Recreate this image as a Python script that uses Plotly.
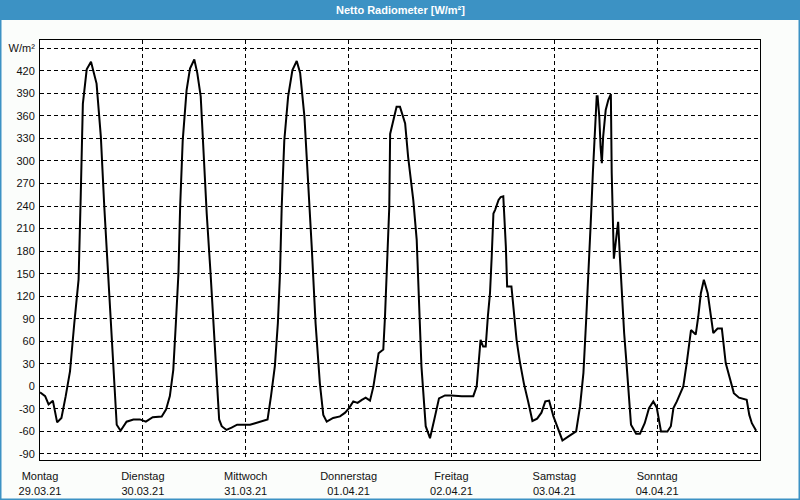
import plotly.graph_objects as go

# hours since Monday 29.03.21 00:00
hours = [0, 1.2, 2, 3, 4, 5, 6, 7, 8, 9, 9.5, 10, 10.9, 11.9, 13.2, 14.2, 15, 16, 16.9, 17.9, 18.8, 20.2, 21.8, 23.3,
         24.7, 26.3, 28.4, 29.4, 30.3, 31.1, 31.7, 32.3, 32.7, 33.3, 34.2, 35, 36, 36.7, 37.5, 38.1, 38.9, 39.8, 40.8,
         41.8, 42.4, 43.5, 44.7, 46, 47.4, 49,
         50.2, 51.7, 53.1, 53.9, 54.8, 55.5, 56, 56.4, 57, 57.9, 58.9, 59.9, 60.7, 61.7, 62.6, 63.4, 64.3, 65.3, 66.1,
         66.9, 68.4, 70, 71.2, 72.1,
         73.1, 74.1, 75.1, 76, 77, 77.8, 79, 80.1, 80.5, 80.9, 81.1, 81.5, 81.7, 82.4, 83.2, 84, 85.2, 85.9, 87.1, 87.9,
         88.4, 89, 90, 91, 92, 93.1, 94.5, 96,
         98.4, 101.1, 101.9, 102.4, 102.8, 103.4, 104, 104.5, 105, 105.4, 105.8, 106.2, 107, 107.5, 108.1, 108.7, 109,
         110, 111.2, 111.9, 112.9, 113.9, 114.9, 116, 117, 117.9, 118.8, 119.8,
         120.9, 121.9, 123.5, 125.1, 126, 126.8, 127.4, 128, 128.5, 129, 129.4, 129.7, 129.9, 130.1, 130.5, 130.8, 131.1,
         131.4, 132, 132.6, 133.2, 133.4, 133.6, 133.9, 134.4, 134.9, 135.3, 135.7, 136.3, 136.9, 137.5, 137.9, 139.1,
         140, 141.1, 142.1, 143.1, 143.9,
         144.9, 146.4, 147.2, 147.8, 148.6, 149.3, 150.1, 150.9, 151.9, 153, 153.6, 154.2, 154.9, 155.8, 156.3, 157.1,
         158.1, 159.1, 160, 161, 161.9, 163.1, 164.9, 165.5, 166.1, 167.1]
values = [-8, -13, -24, -19, -48, -42, -13, 20, 84, 142, 252, 376, 422, 432, 403, 332, 239, 142, 40, -51, -59, -47, -44, -44,
          -47, -41, -40, -31, -13, 22, 84, 150, 239, 327, 394, 423, 435, 417, 386, 314, 230, 150, 53,
          -44, -53, -58, -55, -51, -51, -51,
          -49, -46, -44, -13, 27, 84, 150, 239, 327, 386, 421, 433, 417, 359, 275, 186, 84, 4, -38,
          -47, -42, -40, -35, -29,
          -20, -22, -18, -15, -19, 0, 44, 49, 93, 150, 195, 239, 336, 354, 372, 372, 350, 305, 248, 195,
          106, 27, -53, -69, -44, -16, -12, -12,
          -13, -13, 0, 35, 62, 53, 53, 93, 124, 173, 230, 235, 248, 252, 253, 186, 133,
          133, 62, 35, 4, -20, -46, -43, -35, -20, -19, -40,
          -58, -72, -66, -60, -27, 18, 84, 150, 217, 284, 332, 359, 386, 386, 359, 319, 297,
          332, 368, 381, 389, 284, 217, 170, 195, 219, 173, 124, 71, 27, -18, -51, -63,
          -63, -49, -29, -20, -28,
          -60, -60, -53, -29, -20, -11, 0, 31, 75, 69, 93, 124, 142, 124, 102, 71,
          77, 77, 31, 11, -9, -15, -18, -38, -49, -59]

day_names = ["Montag", "Dienstag", "Mittwoch", "Donnerstag", "Freitag", "Samstag", "Sonntag"]
day_dates = ["29.03.21", "30.03.21", "31.03.21", "01.04.21", "02.04.21", "03.04.21", "04.04.21"]
day_hours = [0, 24, 48, 72, 96, 120, 144]
y_ticks = [-90, -60, -30, 0, 30, 60, 90, 120, 150, 180, 210, 240, 270, 300, 330, 360, 390, 420, 450]
y_labels = [str(v) for v in y_ticks[:-1]] + ["W/m²"]
title_text = "Netto Radiometer [W/m²]"

BLUE = "#3c92c4"
W, H = 800, 500
ML, MR, MT, MB = 40, 40, 40, 40
PW, PH = W - ML - MR, H - MT - MB

fig = go.Figure()
fig.add_trace(go.Scatter(x=hours, y=values, mode="lines",
                         line=dict(color="black", width=2), hoverinfo="skip"))

tick_font = dict(family="Liberation Sans, Arial, sans-serif", size=11, color="#111111")

fig.update_layout(
    width=W, height=H,
    margin=dict(l=ML, r=MR, t=MT, b=MB),
    paper_bgcolor="#fbfdfb", plot_bgcolor="white",
    showlegend=False,
    xaxis=dict(range=[0, 168], tickvals=day_hours,
               ticktext=[f"{n}<br>{d}" for n, d in zip(day_names, day_dates)],
               showgrid=True, gridcolor="black", gridwidth=1, griddash="4px,3px",
               showline=True, linecolor="black", linewidth=1, mirror=True, automargin=False,
               ticks="", tickfont=tick_font, ticklabelstandoff=6, zeroline=False, fixedrange=True),
    yaxis=dict(range=[-98, 461], tickvals=y_ticks, ticktext=y_labels,
               showgrid=True, gridcolor="black", gridwidth=1, griddash="4px,3px",
               showline=True, linecolor="black", linewidth=1, mirror=True, automargin=False,
               ticks="", tickfont=tick_font, ticklabelstandoff=2, zeroline=False, fixedrange=True),
)

# title bar
fig.add_shape(type="rect", xref="paper", yref="paper",
              x0=-ML / PW, x1=1 + MR / PW, y0=1 + (MT - 20) / PH, y1=1 + MT / PH,
              fillcolor=BLUE, line=dict(width=0), layer="above")
# window border
fig.add_shape(type="rect", xref="paper", yref="paper",
              x0=-ML / PW, x1=1 + MR / PW, y0=-MB / PH, y1=1 + MT / PH,
              fillcolor="rgba(0,0,0,0)", line=dict(color=BLUE, width=3), layer="above")
fig.add_annotation(xref="paper", yref="paper", x=0.5 + (400 - ML - PW / 2) / PW, y=1 + (MT - 10) / PH,
                   text=f"<b>{title_text}</b>", showarrow=False, yanchor="middle", xanchor="center",
                   font=dict(family="Liberation Sans Narrow, Liberation Sans, Arial, sans-serif",
                             size=11, color="white"))

fig.write_html("out.html")
